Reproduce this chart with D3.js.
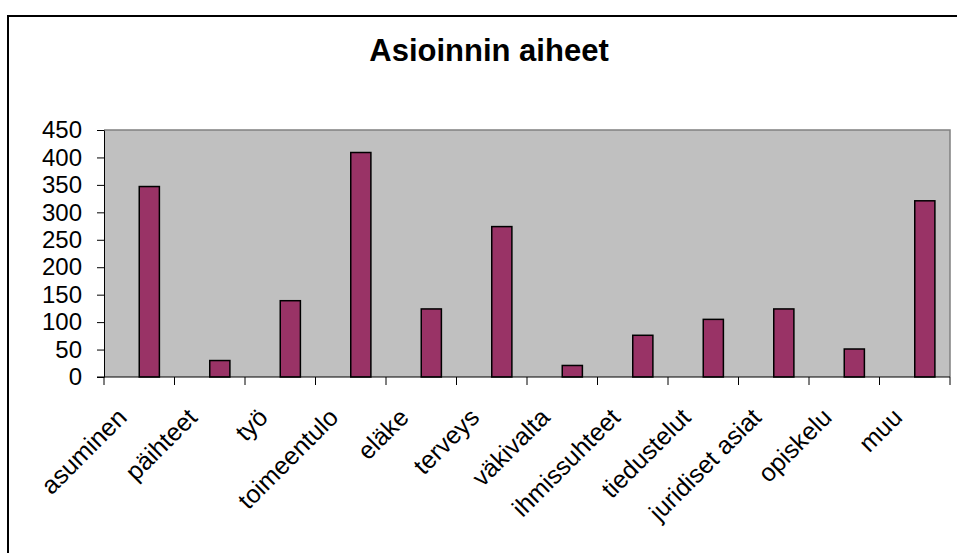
<!DOCTYPE html>
<html>
<head>
<meta charset="utf-8">
<script src="https://cdn.jsdelivr.net/npm/d3@7"></script>
<style>
  html, body { margin: 0; padding: 0; background: #ffffff; }
  svg { display: block; }
  text { font-family: "Liberation Sans", Arial, sans-serif; fill: #000; }
</style>
</head>
<body>
<svg id="chart" width="957" height="553"></svg>
<script>
// Asioinnin aiheet – number of contacts per topic
const title = "Asioinnin aiheet";
const categories = ["asuminen", "päihteet", "työ", "toimeentulo", "eläke", "terveys",
  "väkivalta", "ihmissuhteet", "tiedustelut", "juridiset asiat", "opiskelu", "muu"];
const values = [347, 30, 139, 409, 124, 274, 21, 76, 105, 124, 51, 321];
// Two series slots per category; only the second one carries values
const seriesSlots = ["Sarja1", "Sarja2"];
const shownSeries = "Sarja2";
const yTicks = [0, 50, 100, 150, 200, 250, 300, 350, 400, 450];

const W = 957, H = 553;
const plot = { left: 104, right: 950, top: 130, bottom: 377 };

const svg = d3.select("#chart");

// outer chart frame (left and top edges visible)
svg.append("rect")
  .attr("x", 8).attr("y", 16)
  .attr("width", W + 20).attr("height", H + 20)
  .attr("fill", "#ffffff")
  .attr("stroke", "#000").attr("stroke-width", 2);

const x = d3.scaleBand().domain(categories).range([plot.left, plot.right]).padding(0);
const slot = d3.scaleBand().domain(seriesSlots).range([0, x.bandwidth()])
  .paddingInner(0).paddingOuter(0.75);
const y = d3.scaleLinear().domain([0, 450]).range([plot.bottom, plot.top]);

// plot area background
svg.append("rect")
  .attr("x", plot.left).attr("y", plot.top)
  .attr("width", plot.right - plot.left).attr("height", plot.bottom - plot.top)
  .attr("fill", "#c0c0c0");
// plot area border (top and right)
svg.append("path")
  .attr("d", `M${plot.left},${plot.top}H${plot.right}V${plot.bottom}`)
  .attr("fill", "none").attr("stroke", "#808080").attr("stroke-width", 1.5);

// bars
svg.append("g").selectAll("rect")
  .data(categories.map((c, i) => ({ c, v: values[i] })))
  .join("rect")
  .attr("x", d => x(d.c) + slot(shownSeries))
  .attr("y", d => y(d.v))
  .attr("width", slot.bandwidth())
  .attr("height", d => y(0) - y(d.v))
  .attr("fill", "#993366")
  .attr("stroke", "#000").attr("stroke-width", 1.5);

// y axis
const yAxis = svg.append("g")
  .attr("transform", `translate(${plot.left},0)`)
  .call(d3.axisLeft(y).tickValues(yTicks).tickSize(7).tickPadding(15).tickSizeOuter(0));
yAxis.select(".domain").attr("stroke", "#000").attr("stroke-width", 1);
yAxis.selectAll(".tick line").attr("stroke", "#000");
yAxis.selectAll(".tick text")
  .style("font-size", "24px")
  .style("font-family", "'Liberation Sans', Arial, sans-serif");

// x axis: ticks at category boundaries
const xAxisG = svg.append("g").attr("transform", `translate(0,${plot.bottom})`);
xAxisG.append("line")
  .attr("x1", plot.left - 7).attr("x2", plot.right)
  .attr("stroke", "#000").attr("stroke-width", 1);
const bounds = categories.map(c => x(c)).concat([x(categories[categories.length - 1]) + x.bandwidth()]);
xAxisG.selectAll("line.bt")
  .data(bounds)
  .join("line")
  .attr("class", "bt")
  .attr("x1", d => d).attr("x2", d => d)
  .attr("y1", 0).attr("y2", 8)
  .attr("stroke", "#000").attr("stroke-width", 1);

// rotated category labels
svg.append("g").selectAll("text")
  .data(categories)
  .join("text")
  .attr("transform", d => `translate(${x(d) + x.bandwidth() / 2 - 11},419) rotate(-45)`)
  .attr("text-anchor", "end")
  .style("font-size", "25px")
  .text(d => d);

// title
svg.append("text")
  .attr("x", 489).attr("y", 61)
  .attr("text-anchor", "middle")
  .style("font-size", "31px")
  .style("font-weight", "bold")
  .text(title);
</script>
</body>
</html>
